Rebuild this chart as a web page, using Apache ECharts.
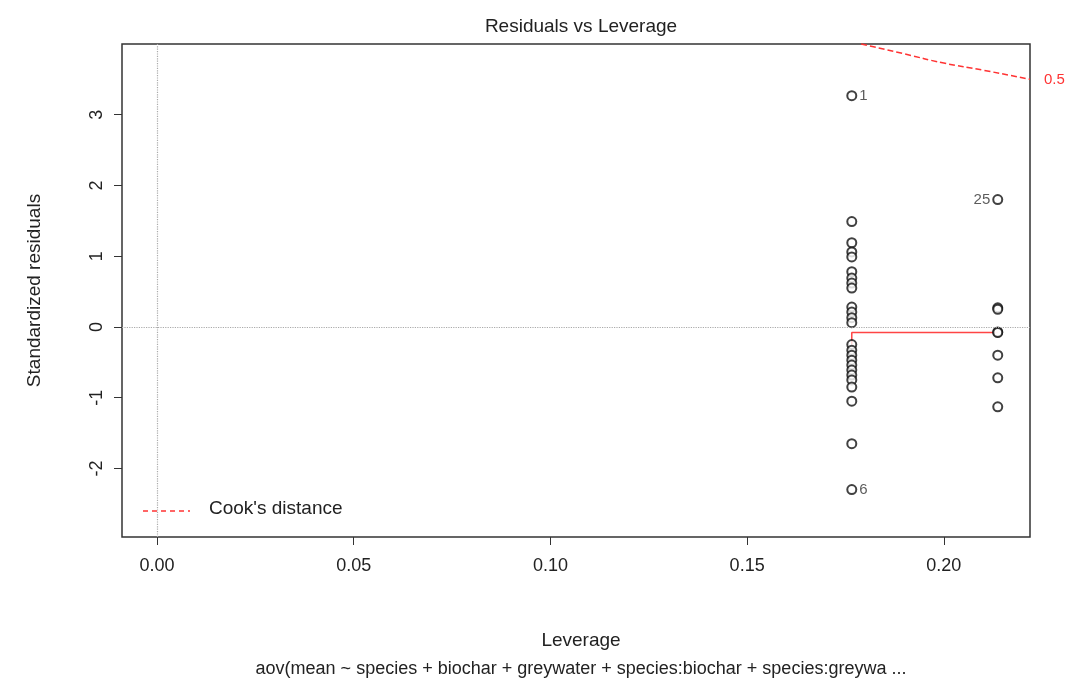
<!DOCTYPE html>
<html><head><meta charset="utf-8">
<script src="https://cdn.jsdelivr.net/npm/echarts@6/dist/echarts.min.js"></script>
<style>html,body{margin:0;padding:0;background:#fff}#c{width:1065px;height:679px}</style>
</head><body><div id="c"></div>
<script>
// leverage values of the two groups
const levA = 0.1766;
const levB = 0.2137;
// standardized residuals
const residA = [3.27, 1.49, 1.19, 1.06, 0.99, 0.78, 0.69, 0.62, 0.55, 0.28, 0.21, 0.13, 0.06,
  -0.25, -0.33, -0.40, -0.47, -0.54, -0.61, -0.68, -0.75, -0.85, -1.05, -1.65, -2.3];
const residB = [1.80, 0.27, 0.25, -0.07, -0.08, -0.40, -0.72, -1.13];
const labelsA = {0: '1', 24: '6'};
const labelsB = {0: '25'};
const smoothLine = [[levA, -0.25], [levA, -0.08], [levB, -0.08]];
const cooks05 = [[0.179, 4.0], [0.19, 3.86], [0.2, 3.73], [0.21, 3.63], [0.2219, 3.5]];
const xTicks = [0, 0.05, 0.10, 0.15, 0.20];
const yTicks = [-2, -1, 0, 1, 2, 3];

const font = 'Liberation Sans';
function pts(lev, arr, labels, pos) {
  return arr.map((v, i) => {
    const d = {value: [lev, v]};
    if (labels[i]) d.label = {show: true, formatter: labels[i], position: pos, color: '#333', fontSize: 15, fontFamily: font, distance: 2};
    return d;
  });
}
const chart = echarts.init(document.getElementById('c'));
chart.setOption({
  animation: false,
  title: [
    {text: 'Residuals vs Leverage', left: 576, top: 12, textAlign: 'center', textStyle: {fontSize: 19, fontWeight: 'normal', color: '#222', fontFamily: font}},
    {text: 'Leverage', left: 576, top: 626, textAlign: 'center', textStyle: {fontSize: 19, fontWeight: 'normal', color: '#222', fontFamily: font}},
    {text: 'aov(mean ~ species + biochar + greywater + species:biochar + species:greywa ...', left: 576, top: 655, textAlign: 'center', textStyle: {fontSize: 18, fontWeight: 'normal', color: '#222', fontFamily: font}}
  ],
  grid: {left: 122, right: 35, top: 44, bottom: 142, show: true, borderColor: '#333', borderWidth: 1.5},
  xAxis: {
    type: 'value', min: -0.0089, max: 0.2219,
    splitLine: {show: false}, axisLine: {show: false, onZero: false},
    axisTick: {show: true, length: 8, customValues: xTicks, lineStyle: {color: '#333'}},
    axisLabel: {customValues: xTicks, formatter: v => v.toFixed(2), fontSize: 18, color: '#222', fontFamily: font, margin: 20}
  },
  yAxis: {
    type: 'value', min: -2.97, max: 4.0,
    name: 'Standardized residuals', nameLocation: 'middle', nameGap: 78,
    nameTextStyle: {fontSize: 19, color: '#222', fontFamily: font},
    splitLine: {show: false}, axisLine: {show: false, onZero: false},
    axisTick: {show: true, length: 8, customValues: yTicks, lineStyle: {color: '#333'}},
    axisLabel: {customValues: yTicks, rotate: 90, fontSize: 18, color: '#222', fontFamily: font, margin: 16}
  },
  graphic: [
    {type: 'line', shape: {x1: 143, y1: 511, x2: 190, y2: 511}, style: {stroke: '#f33', lineWidth: 1.5, lineDash: [5, 4]}},
    {type: 'text', left: 209, top: 499, style: {text: "Cook's distance", fontSize: 19, fill: '#222', fontFamily: font}}
  ],
  series: [
    {type: 'scatter', symbol: 'emptyCircle', symbolSize: 9, itemStyle: {color: '#111', borderColor: '#111', borderWidth: 1.3},
      data: pts(levA, residA, labelsA, 'right').concat(pts(levB, residB, labelsB, 'left')),
      markLine: {silent: true, symbol: 'none', label: {show: false}, lineStyle: {color: '#aaa', type: 'dotted', width: 1.2},
        data: [{xAxis: 0}, {yAxis: 0}]}},
    {type: 'line', data: smoothLine, symbol: 'none', lineStyle: {color: '#f44', width: 1.5}, z: 1},
    {type: 'line', name: "Cook's distance", data: cooks05, symbol: 'none', smooth: true, clip: false,
      lineStyle: {color: '#f33', width: 1.5, type: 'dashed'},
      endLabel: {show: true, formatter: '0.5', color: '#f33', fontSize: 15, fontFamily: font, offset: [6, 0]}}
  ]
});
</script></body></html>
